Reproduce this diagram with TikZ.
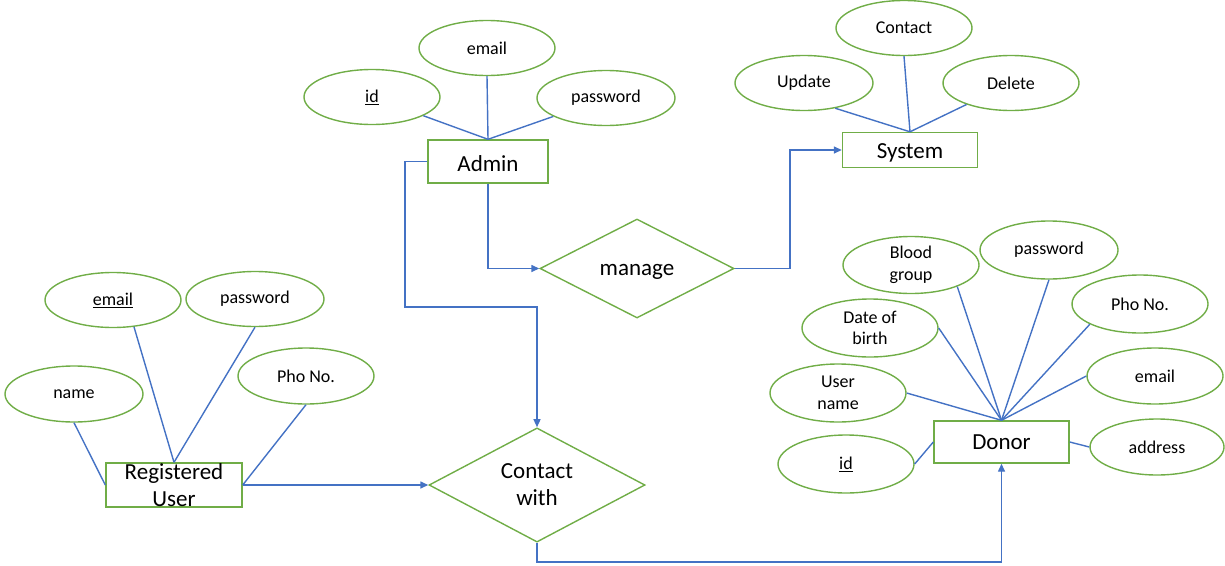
\documentclass[tikz,border=0pt]{standalone}
\usepackage{fontspec}
\setmainfont{Carlito}
\usetikzlibrary{shapes.geometric,arrows.meta}
\definecolor{ogreen}{HTML}{70AD47}
\definecolor{oblue}{HTML}{4472C4}
\begin{document}
\begin{tikzpicture}[x=1pt,y=-1pt,
  attr/.style={draw=ogreen,line width=1.4pt,ellipse,inner sep=0pt,minimum width=136pt,minimum height=55pt,align=center,font=\fontsize{18}{21.5}\selectfont,text=black},
  ent/.style={draw=ogreen,line width=1.4pt,rectangle,inner sep=0pt,align=center,font=\fontsize{23}{27}\selectfont,text=black},
  rel/.style={draw=ogreen,line width=1.4pt,diamond,inner sep=0pt,align=center,font=\fontsize{23}{27}\selectfont,text=black},
  ln/.style={draw=oblue,line width=1.4pt},
  arr/.style={draw=oblue,line width=1.4pt,-{Triangle[length=8pt,width=7pt]}}]
\useasboundingbox (0,0) rectangle (1225,565);
% Admin
\node[ent,minimum width=120pt,minimum height=43pt,text height=20.8pt,text depth=0pt] (admin) at (488,161.5) {Admin};
\node[attr] (aemail) at (487,48) {email};
\node[attr] (aid) at (372,97) {\underline{id}};
\node[attr,minimum width=138pt] (apass) at (606,98) {password};
\draw[ln] (aemail.south) -- (admin.north);
\draw[ln] (aid) -- (admin.north);
\draw[ln] (apass) -- (admin.north);
% System
\node[ent,minimum width=135pt,minimum height=35pt,text height=20.8pt,text depth=4.6pt] (system) at (910,150) {System};
\node[attr] (scontact) at (904,28) {Contact};
\node[attr,minimum width=138pt] (supdate) at (804,83) {Update};
\node[attr] (sdelete) at (1011,83) {Delete};
\draw[ln] (scontact.south) -- (system.north);
\draw[ln] (supdate.-39) -- (system.north);
\draw[ln] (sdelete) -- (system.north);
% manage
\node[rel,minimum width=194pt,minimum height=99pt,text height=18.8pt,text depth=4.6pt] (manage) at (637,268.5) {manage};
\coordinate (k1) at (790,150);
\draw[arr] (admin.south) |- (manage.west);
\draw[arr] (manage.east) -| (k1) -- (system.west);
% Registered user
\node[ent,minimum width=136pt,minimum height=44pt] (reg) at (174,485) {Registered\\User};
\node[attr] (remail) at (113,300) {\underline{email}};
\node[attr,minimum width=138pt] (rpass) at (255,299) {password};
\node[attr,minimum width=138pt,minimum height=56pt] (rname) at (74,394) {name};
\node[attr,minimum height=56pt] (rpho) at (306,376) {Pho No.};
\draw[ln] (rname.south) -- (reg.west);
\draw[ln] (remail.-52) -- (reg.north);
\draw[ln] (rpass.south) -- (reg.north);
\draw[ln] (rpho.south) -- (reg.east);
% Contact with
\node[rel,minimum width=216pt,minimum height=106pt] (contact) at (537,485) {Contact\\with};
\coordinate (k2) at (405,307);
\coordinate (k3) at (537,307);
\coordinate (k4) at (700,562);
\draw[arr] (admin.west) -| (k2) -- (k3) -- (contact.north);
\draw[arr] (reg.east) -- (contact.west);
% Donor
\node[ent,minimum width=135pt,minimum height=42pt] (donor) at (1001.5,442) {Donor};
\draw[arr] (contact.south) |- (k4) -| (donor.south);
\node[attr,minimum height=57pt] (dblood) at (911,265) {Blood\\group};
\node[attr,minimum width=138pt,minimum height=58pt] (dpass) at (1049,250) {password};
\node[attr,minimum height=58pt] (dpho) at (1140,304) {Pho No.};
\node[attr,minimum height=58pt] (ddob) at (870,328) {Date of\\birth};
\node[attr,minimum height=58pt] (duser) at (838,393) {User\\name};
\node[attr,minimum height=56pt] (demail) at (1155,376) {email};
\node[attr,minimum height=58pt] (did) at (846,464) {\underline{id}};
\node[attr,minimum width=134pt,minimum height=56pt] (daddr) at (1157,447) {address};
\draw[ln] (dblood.-25) -- (donor.north);
\draw[ln] (dpass.south) -- (donor.north);
\draw[ln] (dpho.-158) -- (donor.north);
\draw[ln] (ddob.east) -- (donor.north);
\draw[ln] (duser.east) -- (donor.north);
\draw[ln] (demail.west) -- (donor.north);
\draw[ln] (did.east) -- (donor.west);
\draw[ln] (donor.east) -- (daddr.west);
\end{tikzpicture}
\end{document}
